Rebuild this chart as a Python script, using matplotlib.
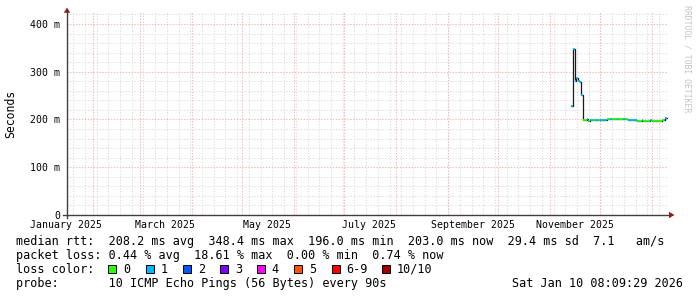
import matplotlib
matplotlib.use('Agg')
import matplotlib.pyplot as plt
from matplotlib.patches import Rectangle, Polygon
from matplotlib.lines import Line2D
from datetime import datetime, timedelta

W, H = 697, 297

# ---------------- data ----------------
t_start = datetime(2025, 1, 16, 8, 9, 29)
t_end = datetime(2026, 1, 10, 8, 9, 29)
first_day = datetime(2025, 11, 13, 16, 0)

median_ms = [228, 348, 281, 286, 281, 279, 252, 199, 199, 202,
             196, 198, 198, 198, 198, 198, 198, 198, 198, 198,
             198, 200, 200, 200, 200, 200, 200, 200, 200, 200,
             200, 200, 200, 200, 199, 199, 199, 199, 199, 197,
             197, 197, 198, 197, 197, 197, 197, 198, 197, 197,
             197, 197, 197, 197, 198, 199, 203]
loss = [1, 1, 1, 1, 1, 1, 1, 0, 0, 1,
        0, 1, 1, 0, 1, 1, 0, 1, 1, 1,
        1, 0, 0, 1, 0, 0, 0, 1, 0, 0,
        0, 1, 0, 0, 1, 1, 1, 1, 1, 0,
        0, 0, 1, 0, 0, 0, 0, 1, 0, 0,
        0, 0, 0, 0, 0, 1, 1]

loss_labels = ['0', '1', '2', '3', '4', '5', '6-9', '10/10']
loss_colors = ['#26ff00', '#00b8ff', '#0059ff', '#7e00ff', '#ff00ff',
               '#ff5500', '#ff0000', '#a10000']

y_ticks = [0.0, 0.1, 0.2, 0.3, 0.4]
y_ticklabels = ['0', '100 m', '200 m', '300 m', '400 m']
x_label_dates = [datetime(2025, 1, 16), datetime(2025, 3, 16), datetime(2025, 5, 16),
                 datetime(2025, 7, 16), datetime(2025, 9, 16), datetime(2025, 11, 16)]
x_labels = ['January 2025', 'March 2025', 'May 2025', 'July 2025',
            'September 2025', 'November 2025']

line1 = "median rtt:  208.2 ms avg  348.4 ms max  196.0 ms min  203.0 ms now  29.4 ms sd  7.1   am/s"
line2 = "packet loss: 0.44 % avg  18.61 % max  0.00 % min  0.74 % now"
line3 = "loss color:"
line4 = "probe:       10 ICMP Echo Pings (56 Bytes) every 90s"
stamp = "Sat Jan 10 08:09:29 2026"

# ---------------- figure ----------------
MONO = 'DejaVu Sans Mono'
fig = plt.figure(figsize=(W / 100, H / 100), dpi=100)
fig.patch.set_facecolor('white')

def fx(x):
    return x / W

def fy(y):
    return 1 - y / H

ax = fig.add_axes([fx(67), fy(215), (668 - 67) / W, (215 - 12) / H])
ax.set_facecolor('white')
ax.set_xlim(t_start, t_end)
ax.set_ylim(0, 0.4251)
for s in ax.spines.values():
    s.set_visible(False)

minor_c = '#dcdcdc'
major_c = '#f0b4b4'
dash = (0, (1.2, 1.6))

# horizontal grid
v = 0.02
while v < 0.425:
    if abs(round(v / 0.1) * 0.1 - v) < 1e-6:
        ax.axhline(v, color=major_c, lw=0.75, ls=dash, zorder=1)
    else:
        ax.axhline(v, color=minor_c, lw=0.75, ls=dash, zorder=0.5)
    v += 0.02

# vertical minor grid: Mondays
d = datetime(2025, 1, 20)
while d < t_end:
    ax.axvline(d, color=minor_c, lw=0.75, ls=dash, zorder=0.5)
    d += timedelta(days=7)
# vertical major grid: month starts
for yy, mm in [(2025, m) for m in range(2, 13)] + [(2026, 1)]:
    ax.axvline(datetime(yy, mm, 1), color=major_c, lw=0.75, ls=dash, zorder=1)

# data
dates = [first_day + timedelta(days=k) for k in range(len(median_ms) + 1)]
vals = [m / 1000 for m in median_ms]
ax.step(dates, vals + [vals[-1]], where='post', color='#1a1a1a', lw=0.9, zorder=3)
ax.hlines(vals, dates[:-1], dates[1:], colors=[loss_colors[l] for l in loss],
          lw=1.3, zorder=4)

# ticks
ax.set_yticks(y_ticks)
ax.set_yticklabels(y_ticklabels, fontfamily=MONO, fontsize=7.1)
ax.tick_params(axis='y', length=0, pad=5)
ax.set_xticks([])
for dd, lab in zip(x_label_dates, x_labels):
    ax.annotate(lab, xy=(dd, 0), xycoords=('data', 'axes fraction'),
                xytext=(0, -5), textcoords='offset pixels', ha='center', va='top',
                fontfamily=MONO, fontsize=7.1, annotation_clip=False)

# axes lines + arrows
axis_c = '#404040'
arrow_c = '#a01515'
fig.add_artist(Line2D([fx(67), fx(67)], [fy(218), fy(11)], color=axis_c, lw=1.0))
fig.add_artist(Line2D([fx(63), fx(670)], [fy(215), fy(215)], color=axis_c, lw=1.0))
fig.add_artist(Polygon([[fx(67), fy(7.5)], [fx(63.8), fy(12.8)], [fx(70.2), fy(12.8)]],
                       closed=True, color=arrow_c, lw=0))
fig.add_artist(Polygon([[fx(674.5), fy(215)], [fx(669), fy(211.8)], [fx(669), fy(218.2)]],
                       closed=True, color=arrow_c, lw=0))

# y axis title
fig.text(fx(10.5), fy(114), 'Seconds', rotation=90, ha='center', va='center',
         fontfamily=MONO, fontsize=8.3)

# watermark
fig.text(fx(687), fy(59), 'RRDTOOL / TOBI OETIKER', rotation=270, ha='center', va='center',
         fontfamily=MONO, fontsize=5.9, color='#c4c4c4')

# legend text
fs = 8.45
fig.text(fx(16), fy(245), line1, ha='left', va='baseline', fontfamily=MONO, fontsize=fs)
fig.text(fx(16), fy(259), line2, ha='left', va='baseline', fontfamily=MONO, fontsize=fs)
fig.text(fx(16), fy(272.7), line3, ha='left', va='baseline', fontfamily=MONO, fontsize=fs)
fig.text(fx(16), fy(286.7), line4, ha='left', va='baseline', fontfamily=MONO, fontsize=fs)
fig.text(fx(683), fy(286.7), stamp, ha='right', va='baseline', fontfamily=MONO, fontsize=fs)

sq_x = [108, 145.5, 182.7, 219.8, 256.8, 294, 331.5, 381.5]
for x0, col, lab in zip(sq_x, loss_colors, loss_labels):
    fig.add_artist(Rectangle((fx(x0), fy(272.5)), 8 / W, 8 / H, facecolor=col,
                             edgecolor='black', lw=0.7))
    fig.text(fx(x0 + 15), fy(272.7), lab, ha='left', va='baseline',
             fontfamily=MONO, fontsize=fs)

fig.savefig('out.png', dpi=100, facecolor='white')
